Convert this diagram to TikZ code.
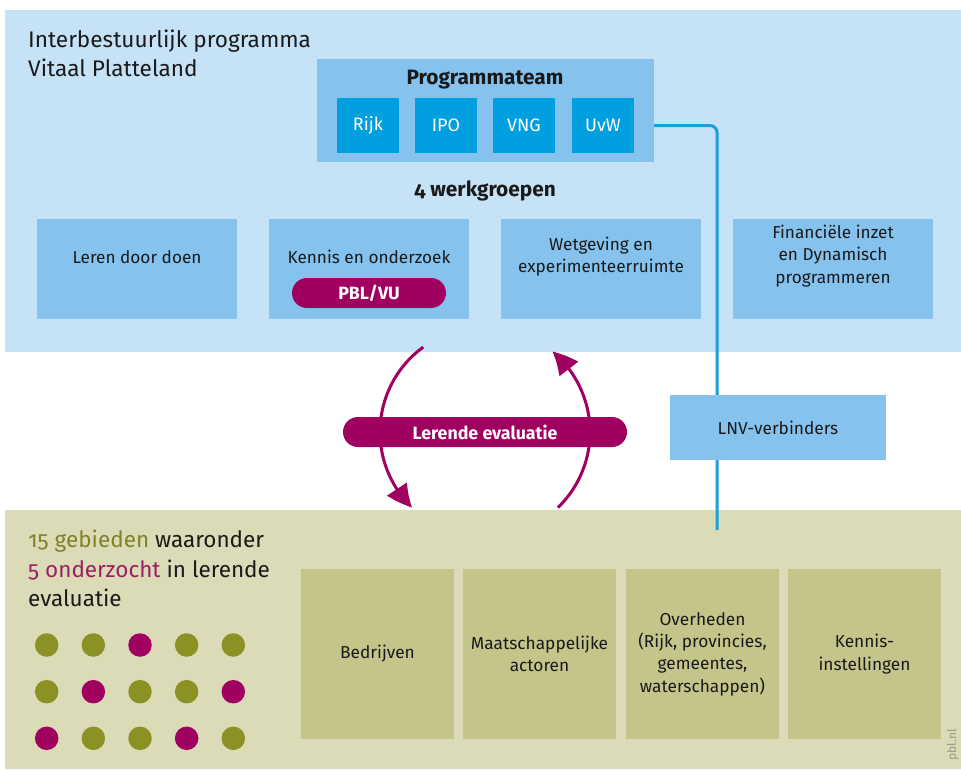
\documentclass[tikz,border=0pt]{standalone}
\usepackage{fontspec}
\setmainfont{Fira Sans}[Numbers=OldStyle]
\usetikzlibrary{arrows.meta,bending}

\definecolor{bandblue}{HTML}{C6E2F7}
\definecolor{boxblue}{HTML}{85C3EE}
\definecolor{deepblue}{HTML}{009FE0}
\definecolor{lineblue}{HTML}{1A9FDB}
\definecolor{plum}{HTML}{A0005F}
\definecolor{plumtext}{HTML}{9A1F62}
\definecolor{bandolive}{HTML}{DBDBB7}
\definecolor{boxolive}{HTML}{C4C58A}
\definecolor{dotolive}{HTML}{8C9126}
\definecolor{olivetext}{HTML}{7D8427}
\definecolor{ink}{HTML}{1A1A1A}
\definecolor{credit}{HTML}{9A9A88}

\tikzset{
  band/.style={fill=#1, draw=none, inner sep=0pt, anchor=north west},
  teambox/.style={fill=boxblue, draw=none, minimum width=337pt, minimum height=103pt, inner sep=0pt},
  partner/.style={fill=deepblue, draw=none, text=white, minimum width=62pt, minimum height=55pt,
    inner sep=0pt, font=\fontsize{18}{20}\selectfont},
  groupbox/.style={fill=boxblue, draw=none, minimum width=200pt, minimum height=100pt, inner sep=0pt},
  boxtext/.style={text=ink, align=center, inner sep=0pt, font=\fontsize{17.2}{22.5}\selectfont},
  boldlabel/.style={text=ink, inner sep=0pt, font=\bfseries\fontsize{20.8}{24}\selectfont},
  pill/.style={fill=plum, draw=none, text=white, rounded corners=15pt, minimum height=30pt,
    inner sep=0pt, font=\bfseries\fontsize{17.8}{20}\selectfont},
  actorbox/.style={fill=boxolive, draw=none, minimum width=153pt, minimum height=170pt, inner sep=0pt,
    text=ink, align=center, font=\fontsize{17.3}{22.3}\selectfont},
  heading/.style={text=ink, align=left, anchor=north west, inner sep=0pt, font=\fontsize{22.6}{28.5}\selectfont},
  cycle/.style={draw=plum, line width=3pt, -{Triangle[length=24pt,width=23pt,bend]}},
  link/.style={draw=lineblue, line width=3pt, rounded corners=7pt},
  area/.style={circle, minimum size=23.5pt, inner sep=0pt, draw=none, fill=#1},
}

\begin{document}
\begin{tikzpicture}[x=1pt, y=-1pt]
  \useasboundingbox (0,0) rectangle (961,769);
  \clip (0,0) rectangle (961,769);

  % the two bands
  \node[band=bandblue, minimum width=956pt, minimum height=342pt] (top) at (5,10) {};
  \node[band=bandolive, minimum width=956pt, minimum height=259pt] (bottom) at (5,510) {};

  % programme title
  \node[heading] (title) at (28,30) {Interbestuurlijk programma\\Vitaal Platteland};

  % programme team with its four partners
  \node[teambox] (pt) at (485.5,110.5) {};
  \node[boldlabel] (pttitle) at (485,80) {Programmateam};
  \node[partner] (rijk) at (368,125.5) {Rijk};
  \node[partner] (ipo)  at (446,125.5) {IPO};
  \node[partner] (vng)  at (524,125.5) {VNG};
  \node[partner] (uvw)  at (603,125.5) {UvW};

  % working groups
  \node[boldlabel] (wg) at (485,191) {4 werkgroepen};
  \node[groupbox] (g1) at (137,269) {};
  \node[groupbox] (g2) at (369,269) {};
  \node[groupbox] (g3) at (601,269) {};
  \node[groupbox] (g4) at (833,269) {};
  \node[boxtext] (g1t) at (137,257) {Leren door doen};
  \node[boxtext] (g2t) at (369,257) {Kennis en onderzoek};
  \node[boxtext] (g3t) at (601,256.5) {Wetgeving en\\experimenteerruimte};
  \node[boxtext] (g4t) at (833,256) {Financiële inzet\\en Dynamisch\\programmeren};
  \node[pill, minimum width=154pt] (pbl) at (369,293) {PBL/VU};

  % link from the programme team down to the regions
  \coordinate (lnvend) at (717,530);
  \draw[link] (uvw -| pt.east) -| (lnvend);
  \node[fill=boxblue, minimum width=216pt, minimum height=65pt, inner sep=0pt, text=ink,
        font=\fontsize{17.3}{20}\selectfont] (lnv) at (778,427.5) {LNV-verbinders};

  % learning evaluation cycle
  \coordinate (cyc) at (485,432);
  \draw[cycle] (cyc) ++(-126:105) arc[start angle=-126, end angle=-226, radius=105];
  \draw[cycle] (cyc) ++(46:105) arc[start angle=46, end angle=-50, radius=105];
  \node[pill, minimum width=284pt] (eval) at (cyc) {Lerende evaluatie};

  % regions
  \node[heading, font=\fontsize{22.5}{29.5}\selectfont] (areas) at (28,530)
    {\textcolor{olivetext}{15 gebieden} waaronder\\\textcolor{plumtext}{5 onderzocht} in lerende\\evaluatie};
  \foreach \c [count=\i] in {dotolive,dotolive,plum,dotolive,dotolive}
    \node[area=\c] (a1\i) at (46.7+46.65*\i-46.65,645) {};
  \foreach \c [count=\i] in {dotolive,plum,dotolive,dotolive,plum}
    \node[area=\c] (a2\i) at (46.7+46.65*\i-46.65,691.7) {};
  \foreach \c [count=\i] in {plum,dotolive,dotolive,plum,dotolive}
    \node[area=\c] (a3\i) at (46.7+46.65*\i-46.65,738.3) {};

  % actors in the regions
  \node[actorbox] (bedr) at (377.5,654) {Bedrijven};
  \node[actorbox] (maat) at (539.5,654) {Maatschappelijke\\actoren};
  \node[actorbox] (overh) at (702.5,654) {Overheden\\(Rijk, provincies,\\gemeentes,\\waterschappen)};
  \node[actorbox] (kennis) at (864.5,654) {Kennis-\\instellingen};

  % credit line
  \node[rotate=90, text=credit, inner sep=0pt, font=\fontsize{12}{14}\selectfont] (pblnl) at (953,745) {pbl.nl};
\end{tikzpicture}
\end{document}
